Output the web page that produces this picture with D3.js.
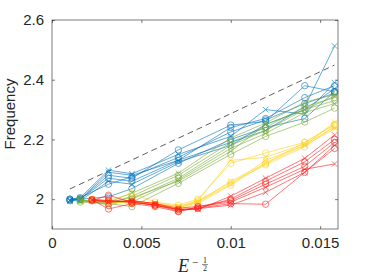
<!DOCTYPE html>
<html>
<head>
<meta charset="utf-8">
<script src="https://cdn.jsdelivr.net/npm/d3@7"></script>
<style>
    body { margin: 0; background: #fff; }
    svg { display: block; }
    .tick text { font-family: "Liberation Sans", Arial, sans-serif; font-size: 15px; fill: #262626; }
    .tick line { stroke: #262626; stroke-width: 0.6; }
</style>
</head>
<body>
<div id="chart"></div>
<script>
// ---------- Data ----------

// x positions are E^(-1/2)
const xBlue = [0.001, 0.00158, 0.00316, 0.00447, 0.00707, 0.01, 0.01195, 0.01414, 0.01581];
const xGreen = [0.00158, 0.00316, 0.00447, 0.00707, 0.01, 0.01195, 0.01414, 0.01581];
const xYellow = [0.00224, 0.00316, 0.00447, 0.00577, 0.00707, 0.00816, 0.01, 0.01195, 0.01414, 0.01581];
const xRed = [0.00224, 0.00316, 0.00447, 0.00577, 0.00707, 0.00816, 0.01, 0.01195, 0.01414, 0.01581];

const blueSeries = [
    [1.997, 2.000, 2.090, 2.080, 2.130, 2.190, 2.230, 2.310, 2.513],
    [1.997, 2.000, 2.080, 2.070, 2.165, 2.248, 2.260, 2.380, 2.360],
    [1.995, 2.005, 2.097, 2.085, 2.150, 2.210, 2.300, 2.285, 2.390],
    [2.000, 2.000, 2.070, 2.060, 2.130, 2.240, 2.270, 2.340, 2.380],
    [1.995, 1.995, 2.060, 2.050, 2.125, 2.180, 2.250, 2.300, 2.370],
    [1.995, 2.000, 2.008, 2.035, 2.120, 2.200, 2.240, 2.270, 2.360],
    [2.000, 2.005, 2.050, 2.075, 2.140, 2.225, 2.265, 2.320, 2.355]
];
const blueMarkers = ["x", "o", "x", "o", "x", "o", "o"];

const greenSeries = [
    [1.995, 1.990, 2.020, 2.087, 2.205, 2.255, 2.325, 2.350],
    [1.995, 1.985, 2.010, 2.080, 2.190, 2.240, 2.310, 2.340],
    [2.000, 1.980, 2.000, 2.070, 2.180, 2.230, 2.300, 2.330],
    [1.995, 1.990, 1.990, 2.065, 2.170, 2.220, 2.290, 2.320],
    [1.990, 1.985, 1.975, 2.053, 2.150, 2.210, 2.258, 2.305],
    [1.995, 1.990, 2.005, 2.060, 2.160, 2.250, 2.300, 2.345]
];
const greenMarkers = ["x", "o", "o", "x", "o", "x"];

const yellowSeries = [
    [1.998, 1.995, 2.020, 1.990, 1.980, 2.000, 2.120, 2.155, 2.190, 2.250],
    [1.995, 1.990, 1.995, 1.985, 1.975, 1.995, 2.130, 2.140, 2.185, 2.240],
    [1.995, 1.990, 1.990, 1.985, 1.970, 1.990, 2.060, 2.120, 2.180, 2.258],
    [1.998, 1.990, 1.990, 1.980, 1.970, 1.995, 2.055, 2.115, 2.175, 2.245],
    [2.000, 1.995, 1.985, 1.990, 1.975, 1.990, 2.050, 2.130, 2.180, 2.235],
    [1.995, 1.990, 1.995, 1.980, 1.965, 1.985, 2.047, 2.120, 2.190, 2.250]
];
const yellowMarkers = ["o", "x", "x", "o", "x", "o"];

const redSeries = [
    [1.998, 1.995, 1.990, 1.980, 1.965, 1.970, 1.985, 1.983, 2.090, 2.170],
    [1.998, 1.990, 1.995, 1.985, 1.965, 1.965, 2.010, 2.070, 2.137, 2.215],
    [1.995, 2.013, 1.990, 1.980, 1.960, 1.970, 2.000, 2.060, 2.125, 2.200],
    [1.998, 1.967, 1.985, 1.975, 1.958, 1.975, 1.995, 2.050, 2.110, 2.190],
    [1.995, 1.990, 1.995, 1.985, 1.970, 1.975, 1.990, 2.040, 2.100, 2.118],
    [1.998, 1.995, 1.990, 1.980, 1.965, 1.968, 1.980, 2.023, 2.090, 2.180]
];
const redMarkers = ["o", "x", "o", "o", "x", "x"];

// reference line
const dashX = [0.001, 0.0158];
const dashY = [2.034, 2.449];

const xTicks = [0, 0.005, 0.01, 0.015];
const yTicks = [2, 2.2, 2.4, 2.6];

// ---------- Chart setup ----------

const width = 374;
const height = 280;
const margin = { top: 20, right: 36, bottom: 51, left: 52 };

const svg = d3.select("#chart")
    .append("svg")
    .attr("width", width)
    .attr("height", height);

const x = d3.scaleLinear()
    .domain([0, 0.016])
    .range([margin.left, width - margin.right]);

const y = d3.scaleLinear()
    .domain([1.9, 2.6])
    .range([height - margin.bottom, margin.top]);

const fmt = d3.format("~g");

// box
svg.append("rect")
    .attr("x", x(0))
    .attr("y", y(2.6))
    .attr("width", x(0.016) - x(0))
    .attr("height", y(1.9) - y(2.6))
    .attr("fill", "none")
    .attr("stroke", "#262626")
    .attr("stroke-width", 0.6);

// inward ticks on all four sides
const axes = [
    { axis: d3.axisBottom(x).tickValues(xTicks).tickFormat(fmt).tickPadding(8), t: `translate(0,${y(1.9)})` },
    { axis: d3.axisTop(x).tickValues(xTicks).tickFormat(""), t: `translate(0,${y(2.6)})` },
    { axis: d3.axisLeft(y).tickValues(yTicks).tickFormat(fmt).tickPadding(8), t: `translate(${x(0)},0)` },
    { axis: d3.axisRight(y).tickValues(yTicks).tickFormat(""), t: `translate(${x(0.016)},0)` }
];

axes.forEach(a => {
    const g = svg.append("g")
        .attr("transform", a.t)
        .call(a.axis.tickSizeInner(-3).tickSizeOuter(0));
    g.select(".domain").remove();
});

// dashed reference line
svg.append("path")
    .attr("d", d3.line()(dashX.map((d, i) => [x(d), y(dashY[i])])))
    .attr("fill", "none")
    .attr("stroke", "#333")
    .attr("stroke-width", 0.8)
    .attr("stroke-dasharray", "6,4");

// ---------- Series ----------

const groups = [
    { xs: xBlue, series: blueSeries, markers: blueMarkers, color: "#0072BD" },
    { xs: xGreen, series: greenSeries, markers: greenMarkers, color: "#77AC30" },
    { xs: xYellow, series: yellowSeries, markers: yellowMarkers, color: "#FFD21A" },
    { xs: xRed, series: redSeries, markers: redMarkers, color: "#FF1A1A" }
];

const line = d3.line()
    .x(d => x(d[0]))
    .y(d => y(d[1]));

groups.forEach(grp => {
    grp.series.forEach((vals, i) => {
        const pts = vals.map((v, j) => [grp.xs[j], v]);
        const g = svg.append("g")
            .attr("stroke", grp.color)
            .attr("fill", "none")
            .attr("opacity", 0.75);

        g.append("path")
            .attr("d", line(pts))
            .attr("stroke-width", 0.8);

        if (grp.markers[i] === "o") {
            g.selectAll("circle")
                .data(pts)
                .join("circle")
                .attr("cx", d => x(d[0]))
                .attr("cy", d => y(d[1]))
                .attr("r", 3.2)
                .attr("stroke-width", 0.8);
        } else {
            const s = 2.8;
            g.selectAll("path.mk")
                .data(pts)
                .join("path")
                .attr("class", "mk")
                .attr("d", d => {
                    const cx = x(d[0]), cy = y(d[1]);
                    return `M${cx - s},${cy - s}L${cx + s},${cy + s}M${cx - s},${cy + s}L${cx + s},${cy - s}`;
                })
                .attr("stroke-width", 0.8);
        }
    });
});

// ---------- Axis labels ----------

svg.append("text")
    .attr("transform", "translate(15,114) rotate(-90)")
    .attr("text-anchor", "middle")
    .attr("font-family", "Liberation Sans, Arial, sans-serif")
    .attr("font-size", 15)
    .attr("fill", "#262626")
    .text("Frequency");

// E^{-1/2}
const lab = svg.append("g")
    .attr("fill", "#262626")
    .attr("font-family", "Liberation Serif, DejaVu Serif, serif");

lab.append("text")
    .attr("x", 178)
    .attr("y", 272)
    .attr("font-style", "italic")
    .attr("font-size", 18)
    .text("E");

lab.append("text")
    .attr("x", 192)
    .attr("y", 266)
    .attr("font-size", 11)
    .text("−");

lab.append("text")
    .attr("x", 205)
    .attr("y", 263)
    .attr("text-anchor", "middle")
    .attr("font-size", 8)
    .text("1");

lab.append("line")
    .attr("x1", 202)
    .attr("x2", 208)
    .attr("y1", 264.5)
    .attr("y2", 264.5)
    .attr("stroke", "#262626")
    .attr("stroke-width", 0.5);

lab.append("text")
    .attr("x", 205)
    .attr("y", 271)
    .attr("text-anchor", "middle")
    .attr("font-size", 8)
    .text("2");
</script>
</body>
</html>
